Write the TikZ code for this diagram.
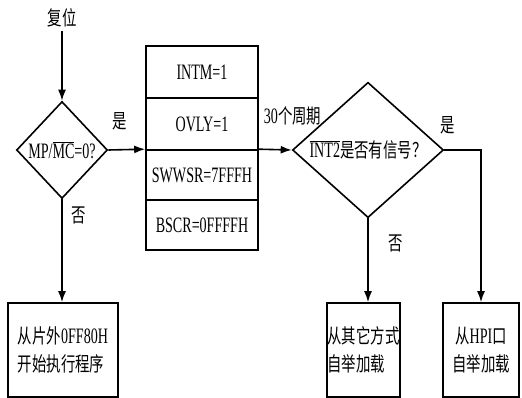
\documentclass[tikz,border=0pt]{standalone}
\usepackage{fontspec}
\setmainfont{Liberation Serif}[FakeStretch=0.64]
\newfontfamily\cjk{Noto Sans CJK SC}[FakeStretch=0.72]
\newcommand{\zh}[1]{{\cjk\fontsize{20}{28}\selectfont #1}}
\usetikzlibrary{shapes.geometric,arrows.meta,positioning}

\begin{document}
\begin{tikzpicture}[x=1pt, y=-1pt, line width=1.6pt,
  font=\fontsize{22}{28}\selectfont,
  box/.style={draw, rectangle, inner sep=0pt},
  decide/.style={draw, diamond, inner sep=0pt},
  flow/.style={-{Latex[length=11pt,width=8pt]}}]
\useasboundingbox (0,0) rectangle (522,398);
% Start and tests
\node (reset) at (62,18) {\zh{复位}};
\node[decide, minimum width=91pt, minimum height=97pt] (mpmc) at (62,150) {MP/$\overline{\mbox{MC}}$=0?};
\node[decide, minimum width=151pt, minimum height=91pt] (intq) at (368,150) {$\overline{\mbox{INT2}}$\zh{是否有信号？}};

% Registers
\node[box, minimum width=112pt, minimum height=52pt] (intm) at (202,72) {INTM=1};
\node[box, minimum width=112pt, minimum height=52pt] (ovly) at (202,124) {OVLY=1};
\node[box, minimum width=112pt, minimum height=50pt] (swwsr) at (202,175) {SWWSR=7FFFH};
\node[box, minimum width=112pt, minimum height=50pt] (bscr) at (202,225) {BSCR=0FFFFH};

% Boot modes
\node[box, minimum width=110pt, minimum height=94pt, align=left] (extload) at (63,350) {\zh{从片外}0FF80H\\\zh{开始执行程序}};
\node[box, minimum width=73pt, minimum height=94pt, align=left] (otherload) at (363.5,350) {\zh{从其它方式}\\\zh{自举加载}};
\node[box, minimum width=76pt, minimum height=94pt, align=center] (hpiload) at (481,350) {\zh{从}HPI\zh{口}\\\zh{自举加载}};

% Arrows
\draw[flow] (reset) -- (mpmc.north);
\draw[flow] (mpmc.east) -- (swwsr.north west)
    node[pos=0.3, above, yshift=16pt] {\zh{是}};
\draw[flow] (swwsr.north east) -- (intq.west)
    node[pos=0, anchor=south west, xshift=1pt, yshift=20pt] {30\zh{个周期}};
\draw[flow] (mpmc.south) -- (mpmc.south |- extload.north)
    node[pos=0.16, right=5pt] {\zh{否}};
\draw[flow] (intq.south) -- (intq.south |- otherload.north)
    node[pos=0.3, right=16pt] {\zh{否}};
\draw[flow] (intq.east) -| (hpiload.north)
    node[pos=0.05, above, yshift=12pt] {\zh{是}};
\end{tikzpicture}
\end{document}
